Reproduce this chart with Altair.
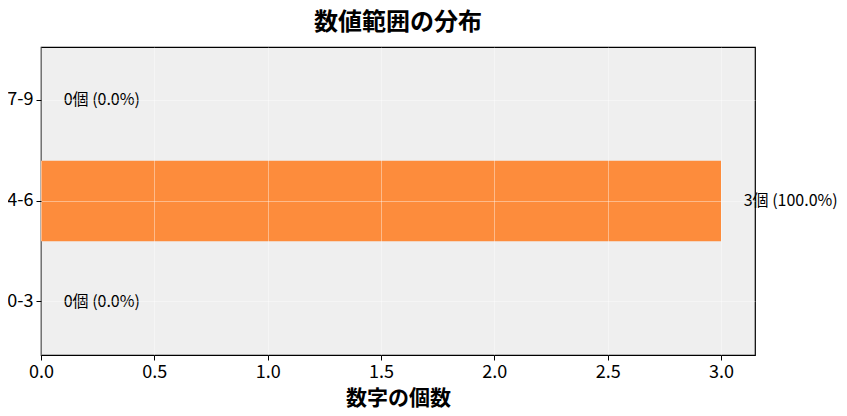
import altair as alt
import pandas as pd

categories = ["0-3", "4-6", "7-9"]
counts = [0, 3, 0]
total = sum(counts)
labels = [f"{c}個 ({(c / total * 100 if total else 0):.1f}%)" for c in counts]

df = pd.DataFrame({
    "range": categories,
    "count": counts,
    "label": labels,
    "label_x": [c + 0.1 for c in counts],
})

FONT = "Noto Sans CJK JP"
order = ["7-9", "4-6", "0-3"]

y_enc = alt.Y(
    "range:N",
    sort=order,
    title=None,
    scale=alt.Scale(paddingInner=0.2, paddingOuter=0.13),
    axis=alt.Axis(
        labelFontSize=18, labelFont=FONT, labelColor="black", labelPadding=3,
        tickSize=5, tickColor="black", domain=False,
        grid=True, gridColor="white", gridOpacity=0.4, gridWidth=1,
        zindex=1,
    ),
)

x_scale = alt.Scale(domain=[0, 3.15], nice=False, zero=True)

bars = alt.Chart(df).mark_bar(color="#fd8c3c", opacity=1).encode(
    x=alt.X(
        "count:Q",
        scale=x_scale,
        title="数字の個数",
        axis=alt.Axis(
            values=[0, 0.5, 1, 1.5, 2, 2.5, 3], format=".1f",
            labelFontSize=18, labelFont=FONT, labelColor="black", labelPadding=3,
            labelFlush=False, labelOverlap=False,
            tickSize=5, tickColor="black", domain=False,
            grid=True, gridColor="white", gridOpacity=0.4, gridWidth=1,
            titleFontSize=21, titleFont=FONT, titleFontWeight="bold",
            titleColor="black", titlePadding=6, zindex=1,
        ),
    ),
    y=y_enc,
)

text = alt.Chart(df).mark_text(
    align="left", baseline="middle", fontSize=16, font=FONT, color="black", clip=False
).encode(
    x=alt.X("label_x:Q", scale=x_scale),
    y=alt.Y("range:N", sort=order),
    text="label:N",
)

chart = alt.layer(bars, text).properties(
    width=714,
    height=308,
    title=alt.TitleParams(
        "数値範囲の分布", fontSize=24, font=FONT, fontWeight="bold",
        color="black", anchor="middle", offset=12,
    ),
    padding={"left": 33, "top": 39, "right": 84, "bottom": 53},
    autosize=alt.AutoSizeParams(type="none"),
).configure_view(
    fill="#efefef", stroke="black", strokeWidth=1.2
)

chart.save("out.html", embed_options={"renderer": "svg", "actions": False})
